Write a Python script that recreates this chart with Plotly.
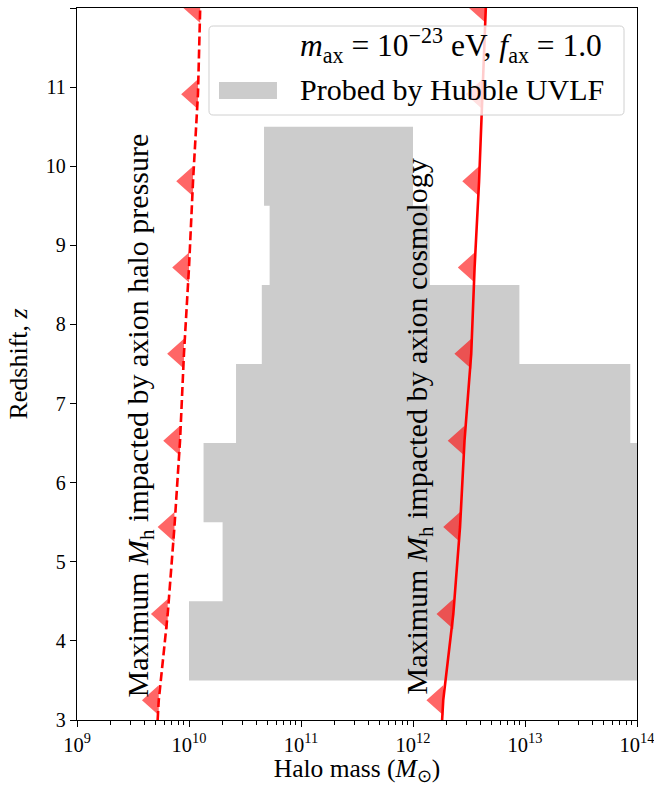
import plotly.graph_objects as go

# Redshift grid on which both halo-mass limits are tabulated
redshift = [3.0, 3.25, 4.34, 5.44, 6.53, 7.63, 8.72, 9.81, 10.91, 12.0]
# log10 of the maximum halo mass impacted by axion halo pressure
log_mh_pressure = [9.72, 9.73, 9.81, 9.87, 9.92, 9.955, 10.00, 10.036, 10.08, 10.10]
# log10 of the maximum halo mass impacted by axion cosmology
log_mh_cosmology = [12.26, 12.27, 12.36, 12.42, 12.46, 12.52, 12.55, 12.59, 12.62, 12.65]

# Redshift bins and halo-mass ranges probed by the Hubble UV luminosity function
uvlf_z_low = [3.5, 4.5, 5.5, 6.5, 7.5, 8.5, 9.5]
uvlf_z_high = [4.5, 5.5, 6.5, 7.5, 8.5, 9.5, 10.5]
uvlf_log_mh_min = [10.00, 10.30, 10.13, 10.42, 10.65, 10.72, 10.67]
uvlf_log_mh_max = [14.3, 14.3, 14.3, 13.94, 12.95, 12.15, 12.00]

x_tick_exponents = [9, 10, 11, 12, 13, 14]
y_ticks = [3, 4, 5, 6, 7, 8, 9, 10, 11, 12]

legend_labels = [
    "<i>m</i><sub>ax</sub> = 10<sup>−23</sup> eV, <i>f</i><sub>ax</sub> = 1.0",
    "Probed by Hubble UVLF",
]

FONT = "Liberation Serif"
RED = "#ff0000"
GREY = "#cccccc"
TRI_FILL = "rgba(255,0,0,0.6)"
TRI_HALF_HEIGHT = 0.19   # in redshift units
TRI_DEPTH = 0.15         # in dex, pointing towards lower mass

# Step outline of the probed region: up the left edges, down the right edges
region_x, region_y = [], []
for lo, z0, z1 in zip(uvlf_log_mh_min, uvlf_z_low, uvlf_z_high):
    region_x += [10 ** lo, 10 ** lo]
    region_y += [z0, z1]
for hi, z0, z1 in reversed(list(zip(uvlf_log_mh_max, uvlf_z_low, uvlf_z_high))):
    region_x += [10 ** hi, 10 ** hi]
    region_y += [z1, z0]
region_x.append(region_x[0])
region_y.append(region_y[0])


def arrow_heads(log_mh):
    """Left-pointing triangles sitting on the curve, marking the excluded side."""
    xs, ys = [], []
    for z, lm in zip(redshift[1:], log_mh[1:]):
        xs += [10 ** lm, 10 ** (lm - TRI_DEPTH), 10 ** lm, 10 ** lm, None]
        ys += [z - TRI_HALF_HEIGHT, z, z + TRI_HALF_HEIGHT, z - TRI_HALF_HEIGHT, None]
    return xs, ys


fig = go.Figure()

fig.add_trace(go.Scatter(
    x=region_x, y=region_y, mode="lines", fill="toself",
    fillcolor=GREY, line=dict(width=0, color=GREY),
    name=legend_labels[1], showlegend=False, hoverinfo="skip",
))

fig.add_trace(go.Scatter(
    x=[10 ** v for v in log_mh_pressure], y=redshift, mode="lines",
    line=dict(color=RED, width=2.6, dash="9px,4px"), showlegend=False,
))
fig.add_trace(go.Scatter(
    x=[10 ** v for v in log_mh_cosmology], y=redshift, mode="lines",
    line=dict(color=RED, width=2.6), showlegend=False,
))

for series in (log_mh_pressure, log_mh_cosmology):
    tx, ty = arrow_heads(series)
    fig.add_trace(go.Scatter(
        x=tx, y=ty, mode="lines", fill="toself", fillcolor=TRI_FILL,
        line=dict(width=0, color="rgba(0,0,0,0)"), showlegend=False,
        hoverinfo="skip",
    ))

# Curve labels, written along the curves
fig.add_annotation(
    x=9.5625, y=6.85, xref="x", yref="y", textangle=-90, showarrow=False,
    text="Maximum <i>M</i><sub>h</sub> impacted by axion halo pressure",
    font=dict(family=FONT, size=30, color="black"),
)
fig.add_annotation(
    x=12.045, y=6.71, xref="x", yref="y", textangle=-90, showarrow=False,
    text="Maximum <i>M</i><sub>h</sub> impacted by axion cosmology",
    font=dict(family=FONT, size=30, color="black"),
)

# Legend box (semi-transparent, rounded corners) in axes-fraction coordinates
bx0, bx1, by0, by1 = 0.2357, 0.9768, 0.8497, 0.9747
rx, ry = 0.0075, 0.0059
box_path = (
    f"M{bx0 + rx},{by1} L{bx1 - rx},{by1} Q{bx1},{by1} {bx1},{by1 - ry} "
    f"L{bx1},{by0 + ry} Q{bx1},{by0} {bx1 - rx},{by0} "
    f"L{bx0 + rx},{by0} Q{bx0},{by0} {bx0},{by0 + ry} "
    f"L{bx0},{by1 - ry} Q{bx0},{by1} {bx0 + rx},{by1} Z"
)
fig.add_shape(type="path", path=box_path, xref="x domain", yref="y domain",
              fillcolor="rgba(255,255,255,0.8)", line=dict(color="#d0d0d0", width=1),
              layer="above")
fig.add_shape(type="rect", xref="x domain", yref="y domain",
              x0=0.2536, x1=0.3571, y0=0.8722, y1=0.8961,
              fillcolor=GREY, line=dict(width=0), layer="above")
for label, ypos, fsize in zip(legend_labels, [0.948, 0.8855], [31.5, 30]):
    fig.add_annotation(
        x=0.3946, y=ypos, xref="x domain", yref="y domain",
        xanchor="left", yanchor="middle", showarrow=False, text=label,
        font=dict(family=FONT, size=fsize, color="black"),
    )

minor_vals = [k * 10 ** e for e in x_tick_exponents[:-1] for k in range(2, 10)]

fig.update_layout(
    width=654, height=786,
    margin=dict(l=77, r=17, t=8, b=66),
    paper_bgcolor="white", plot_bgcolor="white",
    font=dict(family=FONT, size=20, color="black"),
    showlegend=False,
    xaxis=dict(
        type="log", range=[9, 14], automargin=False,
        tickvals=[10 ** e for e in x_tick_exponents],
        ticktext=[f"10<sup>{e}</sup>" for e in x_tick_exponents],
        ticklabeloverflow="allow",
        ticks="outside", ticklen=6, tickwidth=1.2, tickcolor="black",
        minor=dict(ticks="outside", ticklen=3.5, tickwidth=1, tickcolor="black",
                   tickvals=minor_vals),
        showline=True, linecolor="black", linewidth=1.3, mirror=True,
        showgrid=False, zeroline=False,
        tickfont=dict(family=FONT, size=20.5),
        title=dict(text="Halo mass (<i>M</i><sub>⊙</sub>)",
                   font=dict(family=FONT, size=25.5), standoff=11),
    ),
    yaxis=dict(
        range=[3, 12], tickvals=y_ticks, automargin=False,
        ticks="outside", ticklen=6, tickwidth=1.2, tickcolor="black",
        showline=True, linecolor="black", linewidth=1.3, mirror=True,
        showgrid=False, zeroline=False,
        tickfont=dict(family=FONT, size=20),
        title=dict(text="Redshift, <i>z</i>",
                   font=dict(family=FONT, size=26), standoff=10),
    ),
)

fig.write_html("out.html")
